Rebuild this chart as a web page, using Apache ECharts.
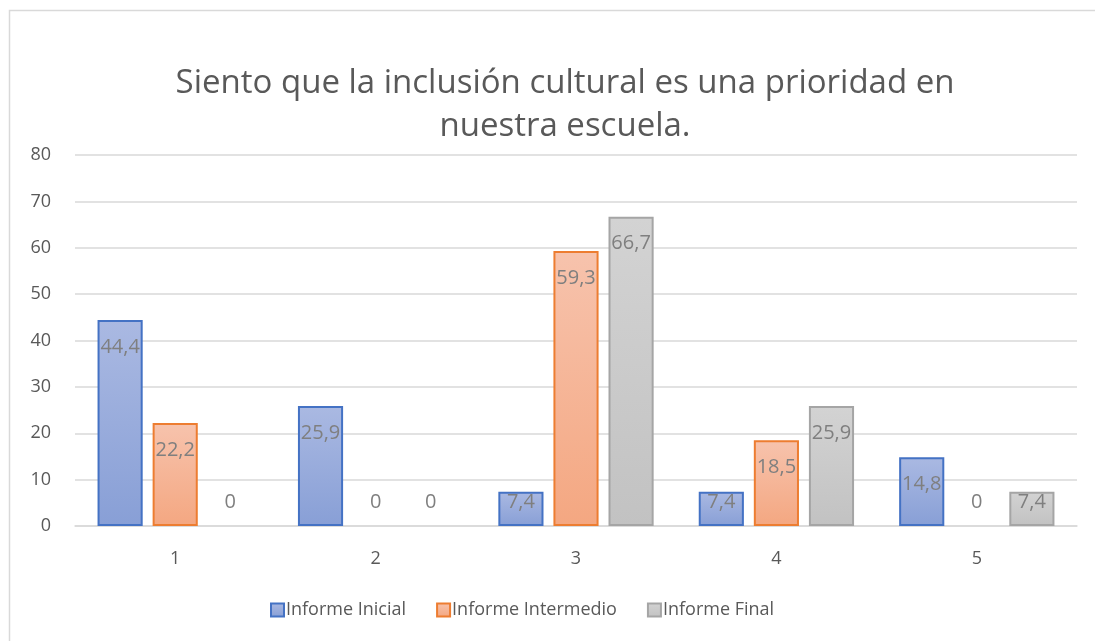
<!DOCTYPE html>
<html>
<head>
<meta charset="utf-8">
<script src="https://cdn.jsdelivr.net/npm/echarts@6/dist/echarts.min.js"></script>
<style>
  html, body { margin: 0; padding: 0; background: #fff; }
  #chart { width: 1095px; height: 641px; }
</style>
</head>
<body>
<div id="chart"></div>
<script>
// datos
const categories = ['1', '2', '3', '4', '5']
const informeInicial = [44.4, 25.9, 7.4, 7.4, 14.8]
const informeIntermedio = [22.2, 0, 59.3, 18.5, 0]
const informeFinal = [0, 0, 66.7, 25.9, 7.4]
const yTicks = [0, 10, 20, 30, 40, 50, 60, 70, 80]

const FONT = '"Open Sans", "Noto Sans", sans-serif'

function grad(top, bottom) {
  return new echarts.graphic.LinearGradient(0, 0, 0, 1, [
    {offset: 0, color: top},
    {offset: 1, color: bottom},
  ])
}

// etiqueta por punto: ceros encima del eje, barras cortas con la etiqueta pegada arriba
function labelFor(v) {
  if (v === 0) return {position: 'top', distance: 14}
  if (v < 10) return {distance: 1}
  return {}
}

function makeSeries(name, values, fill, border) {
  return {
    name,
    type: 'bar',
    barGap: '22%',
    barCategoryGap: '22.5%',
    itemStyle: {color: fill, borderColor: border, borderWidth: 2},
    data: values.map(v => ({
      value: v,
      itemStyle: v === 0 ? {borderWidth: 0} : {},
      label: labelFor(v),
    })),
    label: {
      show: true,
      position: 'insideTop',
      distance: 17,
      color: '#7f7f7f',
      fontSize: 20,
      fontFamily: FONT,
      formatter: p => String(p.value).replace('.', ','),
    },
  }
}

const chart = echarts.init(document.getElementById('chart'))
chart.setOption({
  animation: false,
  backgroundColor: '#fff',
  graphic: [{
    type: 'rect',
    shape: {x: 9.5, y: 10.5, width: 1200, height: 700},
    style: {fill: 'none', stroke: '#d9d9d9', lineWidth: 1.5},
    silent: true,
  }],
  title: {
    text: 'Siento que la inclusión cultural es una prioridad en\nnuestra escuela.',
    left: 560,
    textAlign: 'center',
    top: 57,
    textStyle: {
      color: '#595959',
      fontSize: 33,
      fontWeight: 'normal',
      fontFamily: FONT,
      lineHeight: 43,
    },
  },
  legend: {
    bottom: 17,
    left: 265,
    itemWidth: 13,
    itemHeight: 13,
    itemGap: 30,
    icon: 'rect',
    textStyle: {color: '#595959', fontSize: 18, fontFamily: FONT, padding: [0, 0, 0, -3]},
  },
  grid: {left: 75, right: 18, top: 155, bottom: 115},
  xAxis: {
    type: 'category',
    data: categories,
    axisLine: {lineStyle: {color: '#d9d9d9', width: 1.5}},
    axisTick: {show: false},
    axisLabel: {color: '#595959', fontSize: 18, fontFamily: FONT, margin: 24},
  },
  yAxis: {
    type: 'value',
    min: yTicks[0],
    max: yTicks[yTicks.length - 1],
    interval: 10,
    axisLine: {show: false},
    axisTick: {show: false},
    splitLine: {lineStyle: {color: '#d9d9d9', width: 1.5}},
    axisLabel: {color: '#595959', fontSize: 18, fontFamily: FONT, margin: 24},
  },
  series: [
    makeSeries('Informe Inicial', informeInicial, grad('#aab9e2', '#889fd6'), '#4472c4'),
    makeSeries('Informe Intermedio', informeIntermedio, grad('#f7c3ad', '#f4a781'), '#ed7d31'),
    makeSeries('Informe Final', informeFinal, grad('#d3d3d3', '#c2c2c2'), '#a5a5a5'),
  ],
})

window.addEventListener('resize', () => chart.resize())
</script>
</body>
</html>
